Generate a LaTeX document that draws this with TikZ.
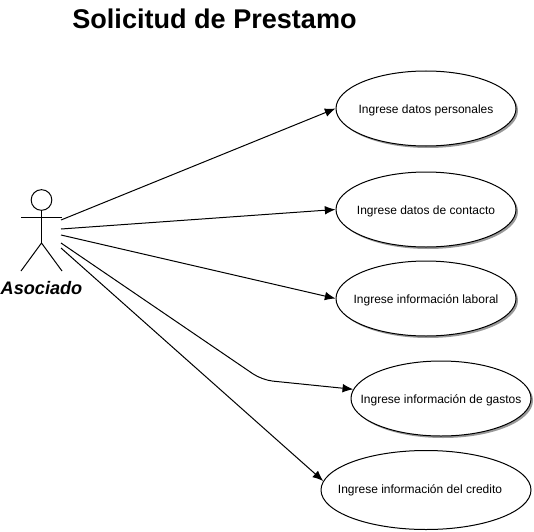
\documentclass[tikz,border=0pt]{standalone}
\usepackage{fontspec}
\setmainfont{Liberation Sans}
\usetikzlibrary{arrows.meta,shapes.geometric,shadows}
\newcommand{\rotulo}[2][-3.45pt]{\raisebox{#1}[0pt][0pt]{\makebox[0pt]{#2}}}
\tikzset{
	casouso/.style={draw, ellipse, fill=white, inner sep=0pt, minimum width=135pt, minimum height=56.25pt, font=\fontsize{9}{11}\selectfont, line width=0.75pt},
	sombra/.style={drop shadow={shadow xshift=1.5pt, shadow yshift=-1.5pt, fill=black, opacity=0.4}},
	flecha/.style={line width=0.75pt, -{Latex[length=8pt,width=6.5pt]}},
	linea/.style={line width=0.75pt}
}
\begin{document}
\begin{tikzpicture}[x=0.75pt,y=-0.75pt]
	\useasboundingbox (0,0) rectangle (534,531);

	\node [font=\fontsize{20.3}{24}\selectfont\bfseries] (titulo) at (214.5,19) {Solicitud de Prestamo};

	% actor
	\node [draw, circle, linea, inner sep=0pt, minimum size=15.5pt] (cabeza) at (41.5,200) {};
	\coordinate (hombro) at (41.5,217);
	\coordinate (cadera) at (41.5,243);
	\coordinate (manoi) at (21,217);
	\coordinate (manod) at (62,217);
	\coordinate (piei) at (21,271);
	\coordinate (pied) at (62,271);
	\draw [linea] (cabeza) -- (cadera);
	\draw [linea] (manoi) -- (manod);
	\draw [linea] (piei) -- (cadera) -- (pied);
	\node [font=\fontsize{13.6}{16}\selectfont\bfseries\itshape] (asociado) at (41.5,288) {Asociado};

	% casos de uso
	\node [casouso, sombra] (personales) at (426,108.5) {\rotulo{Ingrese datos personales}};
	\node [casouso, sombra] (contacto) at (426,209.5) {\rotulo{Ingrese datos de contacto}};
	\node [casouso, sombra] (laboral) at (426,298.5) {\rotulo{Ingrese información laboral}};
	\node [casouso, sombra] (gastos) at (441,398.5) {\rotulo{Ingrese información de gastos}};
	\node [casouso, minimum width=157.5pt, minimum height=59.25pt] (credito) at (426,490) {\rotulo[-2.6pt]{\kern-9pt Ingrese información del credito}};

	% salidas
	\coordinate (s1) at (61,220);
	\coordinate (s2) at (61,229);
	\coordinate (s3) at (61,235);
	\coordinate (s4) at (61,243);
	\coordinate (s5) at (61,248);
	\coordinate (codo) at (262,380);

	\draw [flecha] (s1) -- (personales.west);
	\draw [flecha] (s2) -- (contacto.west);
	\draw [flecha] (s3) -- (laboral.west);
	\draw [flecha, rounded corners=8pt] (s4) -- (codo) -- (gastos.174);
	\draw [flecha] (s5) -- (credito.175);
\end{tikzpicture}
\end{document}
